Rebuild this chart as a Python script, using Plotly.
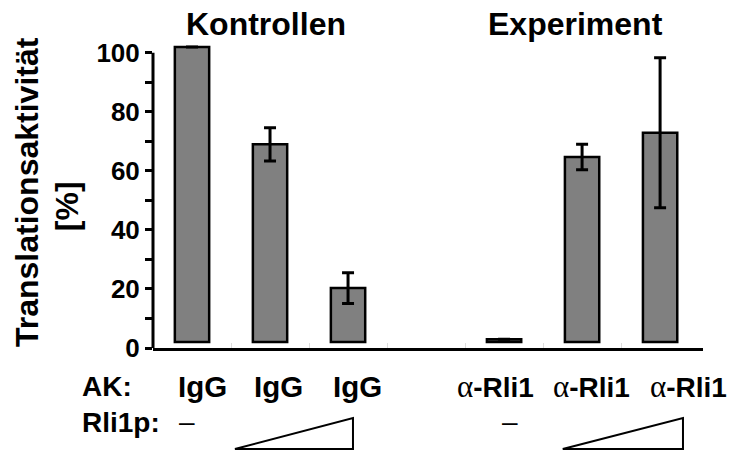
import plotly.graph_objects as go

# Translation activity of the antibody samples, normalised to the IgG control
group_names = ["Kontrollen", "Experiment"]
antibodies = ["IgG", "IgG", "IgG", "α-Rli1", "α-Rli1", "α-Rli1"]
group_index = [0, 0, 0, 1, 1, 1]
rli1p_dose = ["–", "low", "high", "–", "low", "high"]
activity = [100, 67.0, 18.3, 1.0, 62.7, 70.9]
activity_err = [0, 5.6, 5.2, 0, 4.3, 25.4]

y_ticks = list(range(0, 101, 10))
y_ticktext = [str(v) if v % 20 == 0 else "" for v in y_ticks]

BAR_BASE = 2  # bars sit slightly above the axis line
FONT = "Liberation Sans, Arial, sans-serif"
Y_MAX = 103   # headroom so the 100 % bar is not clipped

# plot-area geometry (pixels) used to place the text rows around it
TOP, BOTTOM = 44, 104
PLOT_H = 452 - TOP - BOTTOM


def py(v):
    """Vertical pixel position -> paper coordinate."""
    return (452 - BOTTOM - v) / PLOT_H


# one empty slot separates the two groups
x_pos = [i + g for i, g in enumerate(group_index)]

fig = go.Figure()
fig.add_trace(go.Bar(
    x=x_pos,
    y=activity,
    base=[BAR_BASE] * len(activity),
    width=0.44,
    marker=dict(color="#808080", line=dict(color="black", width=2.5)),
    error_y=dict(type="data", array=activity_err, visible=True,
                 color="black", thickness=3, width=6),
    cliponaxis=False,
    showlegend=False,
))

annotations = []
bold = dict(family=FONT, weight=700, color="black")

# group headings
for g, cx in zip(group_names, [0.2055, 0.769]):
    annotations.append(dict(x=cx, y=py(23.5), xref="paper", yref="paper",
                            text=g, showarrow=False, xanchor="center", yanchor="middle",
                            font=dict(size=32, **bold)))

# y-axis title in two lines
annotations.append(dict(x=-0.229, y=py(192), xref="paper", yref="paper",
                        text="Translationsaktivität", textangle=-90, showarrow=False,
                        xanchor="center", yanchor="middle", font=dict(size=32, **bold)))
annotations.append(dict(x=-0.156, y=py(206), xref="paper", yref="paper",
                        text="[%]", textangle=-90, showarrow=False,
                        xanchor="center", yanchor="middle", font=dict(size=32, **bold)))

# row labels below the axis
annotations.append(dict(x=-0.133, y=py(386.4), xref="paper", yref="paper",
                        text="AK:", showarrow=False, xanchor="left", yanchor="middle",
                        font=dict(size=28, **bold)))
annotations.append(dict(x=-0.133, y=py(422.3), xref="paper", yref="paper",
                        text="Rli1p:", showarrow=False, xanchor="left", yanchor="middle",
                        font=dict(size=28, **bold)))

# antibody labels
label_x = [0.0891, 0.229, 0.371, 0.622, 0.798, 0.973]
for name, lx in zip(antibodies, label_x):
    if name.startswith("α"):
        txt = ("<span style='font-family:Liberation Serif, Times New Roman, serif;"
               "font-weight:normal;font-size:31px'>α</span>" + name[1:])
        size = 28
    else:
        txt = name
        size = 29.5
    annotations.append(dict(x=lx, y=py(386.4), xref="paper", yref="paper",
                            text=txt, showarrow=False, xanchor="center", yanchor="middle",
                            font=dict(size=size, **bold)))

# Rli1p: dash where none was added, wedge for increasing amounts
dash_x = {0: 0.0627, 1: 0.649}
wedge_x = {0: (0.149, 0.3636), 1: (0.745, 0.9636)}
shapes = []
for g in range(len(group_names)):
    doses = [d for d, gi in zip(rli1p_dose, group_index) if gi == g]
    if "–" in doses:
        annotations.append(dict(x=dash_x[g], y=py(421.7), xref="paper", yref="paper",
                                text="–", showarrow=False, xanchor="center", yanchor="middle",
                                font=dict(size=28, family=FONT, color="black")))
    x0, x1 = wedge_x[g]
    yb, yt = py(449), py(418)
    shapes.append(dict(type="path", xref="paper", yref="paper",
                       path=f"M {x0},{yb} L {x1},{yt} L {x1},{yb} Z",
                       line=dict(color="black", width=2), fillcolor="rgba(0,0,0,0)"))

# y-axis line only up to 100 %
shapes.append(dict(type="line", xref="paper", yref="y", x0=0, x1=0, y0=0, y1=100,
                   line=dict(color="black", width=3)))

fig.update_layout(
    width=735, height=452,
    margin=dict(l=153, r=32, t=TOP, b=BOTTOM),
    paper_bgcolor="white", plot_bgcolor="white",
    font=dict(family=FONT, color="black"),
    annotations=annotations,
    shapes=shapes,
    xaxis=dict(range=[-0.5, 6.55], showgrid=False, zeroline=False,
               showline=True, linecolor="black", linewidth=3,
               tickvals=[0.5, 1.5, 2.5, 3.5, 4.5, 5.5], ticks="inside",
               ticklen=5, tickwidth=1, tickcolor="#dddddd", showticklabels=False),
    yaxis=dict(range=[0, Y_MAX], showgrid=False, zeroline=False, showline=False,
               tickvals=y_ticks, ticktext=y_ticktext, ticks="outside",
               ticklen=7, tickwidth=3, tickcolor="black",
               tickfont=dict(size=26, **bold)),
)

fig.write_html("out.html")
